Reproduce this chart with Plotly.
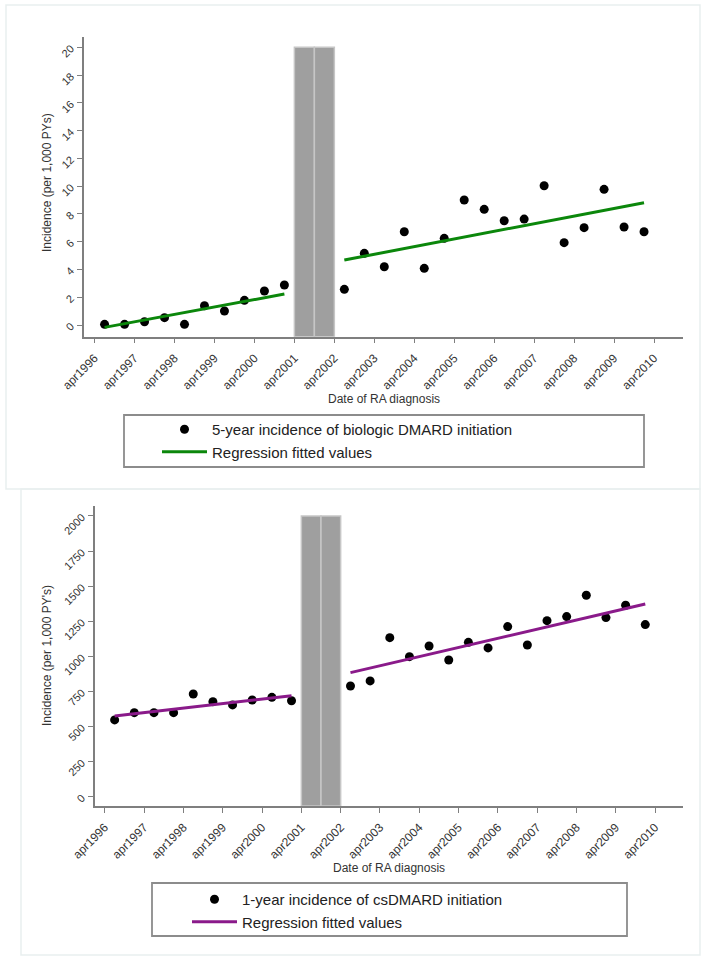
import plotly.graph_objects as go

W, H = 704, 967

# ---- data ----------------------------------------------------------------
tick_vals = [1996.25, 1997.25, 1998.25, 1999.25, 2000.25, 2001.25, 2002.25,
             2003.25, 2004.25, 2005.25, 2006.25, 2007.25, 2008.25, 2009.25, 2010.25]
tick_text = ["apr1996", "apr1997", "apr1998", "apr1999", "apr2000", "apr2001",
             "apr2002", "apr2003", "apr2004", "apr2005", "apr2006", "apr2007",
             "apr2008", "apr2009", "apr2010"]

x_pre = [1996.5, 1997.0, 1997.5, 1998.0, 1998.5, 1999.0, 1999.5, 2000.0, 2000.5, 2001.0]
x_post = [2002.5, 2003.0, 2003.5, 2004.0, 2004.5, 2005.0, 2005.5, 2006.0,
          2006.5, 2007.0, 2007.5, 2008.0, 2008.5, 2009.0, 2009.5, 2010.0]

# washout period (apr2001 - apr2002), two half-year blocks
gap_x = [2001.5, 2002.0]
gap_width = 0.5

# 5-year incidence of biologic DMARD initiation (per 1,000 PYs)
bio_pre = [0.05, 0.05, 0.24, 0.53, 0.05, 1.39, 1.01, 1.78, 2.45, 2.88]
bio_post = [2.57, 5.16, 4.20, 6.72, 4.08, 6.24, 9.00, 8.33, 7.51, 7.63,
            10.03, 5.93, 7.01, 9.77, 7.06, 6.72]
bio_fit_x_pre = [1996.5, 2001.0]
bio_fit_pre = [-0.17, 2.23]
bio_fit_x_post = [2002.5, 2010.0]
bio_fit_post = [4.68, 8.81]
bio_gap_top = 20

# 1-year incidence of csDMARD initiation (per 1,000 PYs)
cs_pre = [547, 599, 599, 599, 732, 677, 654, 689, 708, 684]
cs_post = [789, 825, 1133, 998, 1074, 974, 1100, 1060, 1212, 1081,
           1254, 1283, 1435, 1276, 1364, 1226]
cs_fit_x_pre = [1996.5, 2001.0]
cs_fit_pre = [575, 720]
cs_fit_x_post = [2002.5, 2010.0]
cs_fit_post = [884, 1373]
cs_gap_top = 2000

# ---- styling -------------------------------------------------------------
FONT = "Liberation Sans"
GREEN = "#0b870b"
PURPLE = "#8a1a8a"
AXIS = "#7f7f7f"
TXT = "#333333"

top_yrange = [-0.84, 20.74]
bot_yrange = [-66, 2071]
top_xrange = [1995.985, 2010.975]
bot_xrange = [1996.0, 2010.96]


def px(x):
    return x / W


def py(y):
    return 1 - y / H


fig = go.Figure()

# shaded washout blocks
for xa, ya, top, yr in [("x", "y", bio_gap_top, top_yrange),
                        ("x2", "y2", cs_gap_top, bot_yrange)]:
    fig.add_trace(go.Bar(
        x=gap_x, y=[top - yr[0]] * len(gap_x), base=[yr[0]] * len(gap_x),
        width=[gap_width] * len(gap_x), xaxis=xa, yaxis=ya,
        marker=dict(color="#9f9f9f", line=dict(color="#c6c6c6", width=1.5)),
        showlegend=False, hoverinfo="skip"))

# top panel: biologic DMARD
fig.add_trace(go.Scatter(
    x=x_pre, y=bio_pre, mode="markers", xaxis="x", yaxis="y",
    marker=dict(color="black", size=9),
    name="5-year incidence of biologic DMARD initiation", legend="legend"))
fig.add_trace(go.Scatter(
    x=x_post, y=bio_post, mode="markers", xaxis="x", yaxis="y",
    marker=dict(color="black", size=9), showlegend=False))
fig.add_trace(go.Scatter(
    x=bio_fit_x_pre, y=bio_fit_pre, mode="lines", xaxis="x", yaxis="y",
    line=dict(color=GREEN, width=3),
    name="Regression fitted values", legend="legend"))
fig.add_trace(go.Scatter(
    x=bio_fit_x_post, y=bio_fit_post, mode="lines", xaxis="x", yaxis="y",
    line=dict(color=GREEN, width=3), showlegend=False))

# bottom panel: csDMARD
fig.add_trace(go.Scatter(
    x=x_pre, y=cs_pre, mode="markers", xaxis="x2", yaxis="y2",
    marker=dict(color="black", size=9),
    name="1-year incidence of csDMARD initiation", legend="legend2"))
fig.add_trace(go.Scatter(
    x=x_post, y=cs_post, mode="markers", xaxis="x2", yaxis="y2",
    marker=dict(color="black", size=9), showlegend=False))
fig.add_trace(go.Scatter(
    x=cs_fit_x_pre, y=cs_fit_pre, mode="lines", xaxis="x2", yaxis="y2",
    line=dict(color=PURPLE, width=3),
    name="Regression fitted values", legend="legend2"))
fig.add_trace(go.Scatter(
    x=cs_fit_x_post, y=cs_fit_post, mode="lines", xaxis="x2", yaxis="y2",
    line=dict(color=PURPLE, width=3), showlegend=False))

xaxis_common = dict(
    tickmode="array", tickvals=tick_vals, ticktext=tick_text, tickangle=-45,
    ticks="outside", ticklen=5, tickcolor=AXIS, tickwidth=1.2,
    ticklabelstandoff=3,
    showline=True, linecolor=AXIS, linewidth=1.5, showgrid=False,
    zeroline=False, tickfont=dict(family=FONT, size=12, color=TXT),
    automargin=False)
yaxis_common = dict(
    tickangle=-45, ticks="outside", ticklen=5, tickcolor=AXIS, tickwidth=1.2,
    ticklabelstandoff=4,
    showline=True, linecolor=AXIS, linewidth=1.5, showgrid=False,
    zeroline=False, tickfont=dict(family=FONT, size=11, color=TXT),
    automargin=False)

legend_common = dict(xanchor="left", yanchor="top", itemwidth=45,
                     bgcolor="rgba(0,0,0,0)", borderwidth=0,
                     font=dict(family=FONT, size=15, color="#222222"))

fig.update_layout(
    width=W, height=H, margin=dict(l=0, r=0, t=0, b=0),
    paper_bgcolor="white", plot_bgcolor="white",
    font=dict(family=FONT, color=TXT),
    barmode="overlay",
    xaxis=dict(xaxis_common, domain=[px(84), px(683)], range=top_xrange, anchor="y"),
    yaxis=dict(yaxis_common, domain=[py(336.7), py(37)], range=top_yrange,
               tickvals=[0, 2, 4, 6, 8, 10, 12, 14, 16, 18, 20], anchor="x"),
    xaxis2=dict(xaxis_common, domain=[px(95), px(683)], range=bot_xrange, anchor="y2"),
    yaxis2=dict(yaxis_common, domain=[py(806), py(506)], range=bot_yrange,
                tickvals=[0, 250, 500, 750, 1000, 1250, 1500, 1750, 2000], anchor="x2"),
    legend=dict(legend_common, x=px(157), y=py(413)),
    legend2=dict(legend_common, x=px(187), y=py(883)),
)

# panel frames and legend boxes
shapes = [
    dict(type="rect", xref="paper", yref="paper",
         x0=px(6), x1=px(700), y0=py(489), y1=py(5),
         line=dict(color="#e9efef", width=1.5)),
    dict(type="rect", xref="paper", yref="paper",
         x0=px(21), x1=px(700), y0=py(955), y1=py(489),
         line=dict(color="#e9efef", width=1.5)),
    dict(type="rect", xref="paper", yref="paper",
         x0=px(124), x1=px(644), y0=py(467), y1=py(415),
         line=dict(color="#8c8c8c", width=1.8)),
    dict(type="rect", xref="paper", yref="paper",
         x0=px(152), x1=px(627), y0=py(936), y1=py(883),
         line=dict(color="#8c8c8c", width=1.8)),
]
fig.update_layout(shapes=shapes)

ann_font = dict(family=FONT, size=12, color=TXT)
ann_common = dict(xref="paper", yref="paper", showarrow=False, font=ann_font,
                  xanchor="center", yanchor="middle")
fig.update_layout(annotations=[
    dict(ann_common, text="Incidence (per 1,000 PYs)", x=px(47), y=py(183),
         textangle=-90),
    dict(ann_common, text="Date of RA diagnosis", x=px(383.5), y=py(399)),
    dict(ann_common, text="Incidence (per 1,000 PY's)", x=px(47), y=py(656),
         textangle=-90),
    dict(ann_common, text="Date of RA diagnosis", x=px(389), y=py(868)),
])

fig.write_html("out.html")
